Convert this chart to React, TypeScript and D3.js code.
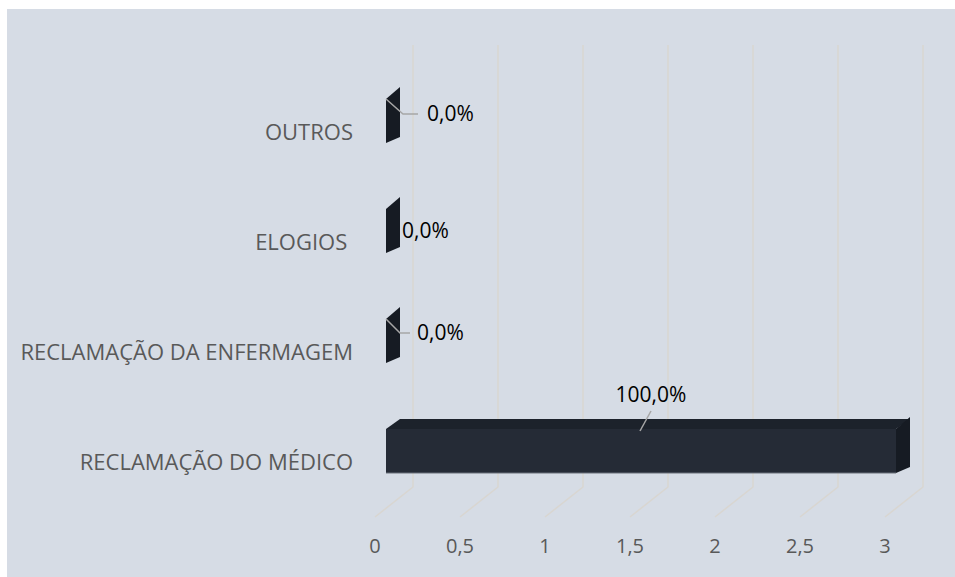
import React from "react";
import * as d3 from "d3";

const categories = ["OUTROS", "ELOGIOS ", "RECLAMAÇÃO DA ENFERMAGEM", "RECLAMAÇÃO DO MÉDICO"];
const values = [0, 0, 0, 3];
const labels = ["0,0%", "0,0%", "0,0%", "100,0%"];
const ticks = [0, 0.5, 1, 1.5, 2, 2.5, 3];
const tickLabels = ["0", "0,5", "1", "1,5", "2", "2,5", "3"];

const W = 955, H = 577;
const FONT = "'Open Sans', sans-serif";

export default function App() {
  // front plane of the floor / axis
  const x = d3.scaleLinear().domain([0, 3]).range([375, 885]);
  const y = d3.scaleBand().domain(categories).range([66, 506]).paddingInner(0.6).paddingOuter(0.3);
  const wallDx = 38, wallDy = -30; // depth of the 3D box
  const floorY = 517;
  const gridTop = 45;
  const barOff = 11; // bars sit a bit behind the front plane
  const bdx = 14, bdy = -10; // bar depth

  return (
    <svg width={W} height={H} style={{ position: "absolute", left: 0, top: 0 }}>
      <rect x={7} y={9} width={W - 7} height={H - 9} fill="#d6dce5" />
      {/* gridlines: back wall + floor */}
      {ticks.map((t) => {
        const fx = x(t);
        const bx = fx + wallDx;
        return (
          <path key={t}
            d={`M${bx},${gridTop}V${floorY + wallDy}L${fx},${floorY}`}
            fill="none" stroke="#d9d6d1" strokeWidth={1.5} />
        );
      })}
      {/* bars */}
      {categories.map((c, i) => {
        const y0 = y(c)!;
        const h = y.bandwidth();
        const x0 = x(0) + barOff;
        const x1 = x(values[i]) + barOff;
        const w = x1 - x0;
        return (
          <g key={c}>
            {w > 0 && (
              <>
                <path d={`M${x0},${y0}L${x0 + bdx},${y0 + bdy}L${x1 + bdx},${y0 + bdy}L${x1},${y0}Z`} fill="#1c222b" />
                <rect x={x0} y={y0} width={w} height={h} fill="#252b36" />
                <line x1={x0} x2={x1} y1={y0 + h} y2={y0 + h} stroke="#6b717b" strokeWidth={1} />
              </>
            )}
            <path d={`M${x1},${y0}L${x1 + bdx},${y0 + bdy - 2}L${x1 + bdx},${y0 + h + bdy + 4}L${x1},${y0 + h}Z`} fill="#161b23" />
          </g>
        );
      })}
      {/* category labels */}
      {categories.map((c) => (
        <text key={c} x={353} y={y(c)! + y.bandwidth() / 2 + 13} textAnchor="end" dominantBaseline="middle"
          fontFamily={FONT} fontSize={22} fill="#595959" style={{ whiteSpace: "pre" }}>{c}</text>
      ))}
      {/* data labels with leader lines */}
      {categories.map((c, i) => {
        const y0 = y(c)!;
        const xe = x(values[i]) + barOff;
        if (i === 0) {
          return (
            <g key={c}>
              <polyline points={`${xe},${y0}${" "}${xe + 17},${y0 + 15} ${xe + 32},${y0 + 15}`} fill="none" stroke="#a6a6a6" strokeWidth={1.5} />
              <text x={xe + 41} y={y0 + 16} dominantBaseline="middle" fontFamily={FONT} fontSize={21} fill="#000">{labels[i]}</text>
            </g>
          );
        }
        if (i === 1) {
          return (
            <text key={c} x={xe + 16} y={y0 + 23} dominantBaseline="middle" fontFamily={FONT} fontSize={21} fill="#000">{labels[i]}</text>
          );
        }
        if (i === 2) {
          return (
            <g key={c}>
              <polyline points={`${xe},${y0}${" "}${xe + 14},${y0 + 14} ${xe + 24},${y0 + 14}`} fill="none" stroke="#a6a6a6" strokeWidth={1.5} />
              <text x={xe + 31} y={y0 + 15} dominantBaseline="middle" fontFamily={FONT} fontSize={21} fill="#000">{labels[i]}</text>
            </g>
          );
        }
        const cx = x(values[i] * 0.5) + barOff + 10;
        return (
          <g key={c}>
            <line x1={cx - 11} y1={y0 + 2} x2={cx} y2={y0 - 18} stroke="#a6a6a6" strokeWidth={1.5} />
            <text x={cx} y={y0 - 33} textAnchor="middle" dominantBaseline="middle" fontFamily={FONT} fontSize={21} fill="#000">{labels[i]}</text>
          </g>
        );
      })}
      {/* x axis tick labels */}
      {ticks.map((t, i) => (
        <text key={t} x={x(t)} y={548} textAnchor="middle" dominantBaseline="middle"
          fontFamily={FONT} fontSize={20} fill="#595959">{tickLabels[i]}</text>
      ))}
    </svg>
  );
}
